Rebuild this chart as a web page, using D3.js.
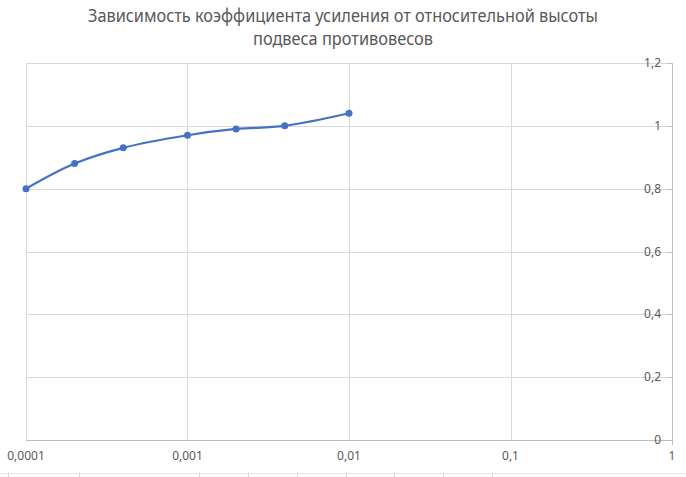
<!DOCTYPE html>
<html><head><meta charset="utf-8">
<script src="https://cdn.jsdelivr.net/npm/d3@7"></script>
<style>body{margin:0;background:#fff;}svg{display:block;font-family:"Noto Sans",sans-serif;}</style>
</head><body><svg id="c" width="686" height="477"></svg>
<script>
const xValues = [0.0001, 0.0002, 0.0004, 0.001, 0.002, 0.004, 0.01];
const yValues = [0.8, 0.88, 0.93, 0.97, 0.99, 1.0, 1.04];
const xTicks = [0.0001, 0.001, 0.01, 0.1, 1];
const xTickLabels = ["0,0001", "0,001", "0,01", "0,1", "1"];
const yTicks = [0, 0.2, 0.4, 0.6, 0.8, 1, 1.2];
const yTickLabels = ["0", "0,2", "0,4", "0,6", "0,8", "1", "1,2"];
const titleLines = ["Зависимость коэффициента усиления от относительной высоты", "подвеса противовесов"];

const svg = d3.select("#c");
const grid = "#d9d9d9", txt = "#595959", blue = "#4472C4";
const x = d3.scaleLog().domain([0.0001, 1]).range([26, 672]);
const y = d3.scaleLinear().domain([0, 1.2]).range([440, 63]);

// title
const titleWidths = [510, 180];
svg.selectAll("text.title").data(titleLines).join("text")
  .attr("x", 343).attr("y", (d,i)=>22 + i*23)
  .attr("text-anchor","middle").attr("fill",txt).attr("font-size",17.5)
  .attr("textLength",(d,i)=>titleWidths[i]).attr("lengthAdjust","spacingAndGlyphs")
  .text(d=>d);

// horizontal gridlines
svg.selectAll("line.hg").data(yTicks).join("line")
  .attr("x1",26).attr("x2",672).attr("y1",d=>Math.round(y(d))+0.5).attr("y2",d=>Math.round(y(d))+0.5)
  .attr("stroke",grid).attr("stroke-width",1);
// vertical gridlines
svg.selectAll("line.vg").data(xTicks).join("line")
  .attr("x1",d=>Math.round(x(d))+0.5).attr("x2",d=>Math.round(x(d))+0.5).attr("y1",63).attr("y2",440)
  .attr("stroke",grid).attr("stroke-width",1);
// right axis line & bottom
svg.append("line").attr("x1",672.5).attr("x2",672.5).attr("y1",63).attr("y2",445).attr("stroke","#bfbfbf");
svg.append("line").attr("x1",26).attr("x2",672).attr("y1",440.5).attr("y2",440.5).attr("stroke","#bfbfbf");
// y tick marks
svg.selectAll("line.yt").data(yTicks).join("line")
  .attr("x1",667).attr("x2",672).attr("y1",d=>Math.round(y(d))+0.5).attr("y2",d=>Math.round(y(d))+0.5)
  .attr("stroke","#bfbfbf");

// y labels
svg.selectAll("text.yl").data(yTicks).join("text")
  .attr("x",661).attr("y",d=>y(d)+4).attr("text-anchor","end")
  .attr("fill",txt).attr("font-size",12).text((d,i)=>yTickLabels[i]);
// x labels
svg.selectAll("text.xl").data(xTicks).join("text")
  .attr("x",d=>x(d)).attr("y",460).attr("text-anchor","middle")
  .attr("fill",txt).attr("font-size",12).text((d,i)=>xTickLabels[i]);

// line
const pts = xValues.map((v,i)=>[x(v), y(yValues[i])]);
svg.append("path").attr("d", d3.line().curve(d3.curveCatmullRom.alpha(0.5))(pts))
  .attr("fill","none").attr("stroke",blue).attr("stroke-width",2.25);
svg.selectAll("circle").data(pts).join("circle")
  .attr("cx",d=>d[0]).attr("cy",d=>d[1]).attr("r",3.5).attr("fill",blue);

// spreadsheet cell fragments at bottom
const cellLines = [8, 79, 199, 248, 297, 346, 394, 443, 492];
svg.append("line").attr("x1",0).attr("x2",686).attr("y1",473.5).attr("y2",473.5).attr("stroke","#e6e6e6");
svg.selectAll("line.cl").data(cellLines).join("line")
  .attr("x1",d=>d+0.5).attr("x2",d=>d+0.5).attr("y1",473).attr("y2",477).attr("stroke","#d9d9d9");
</script></body></html>
